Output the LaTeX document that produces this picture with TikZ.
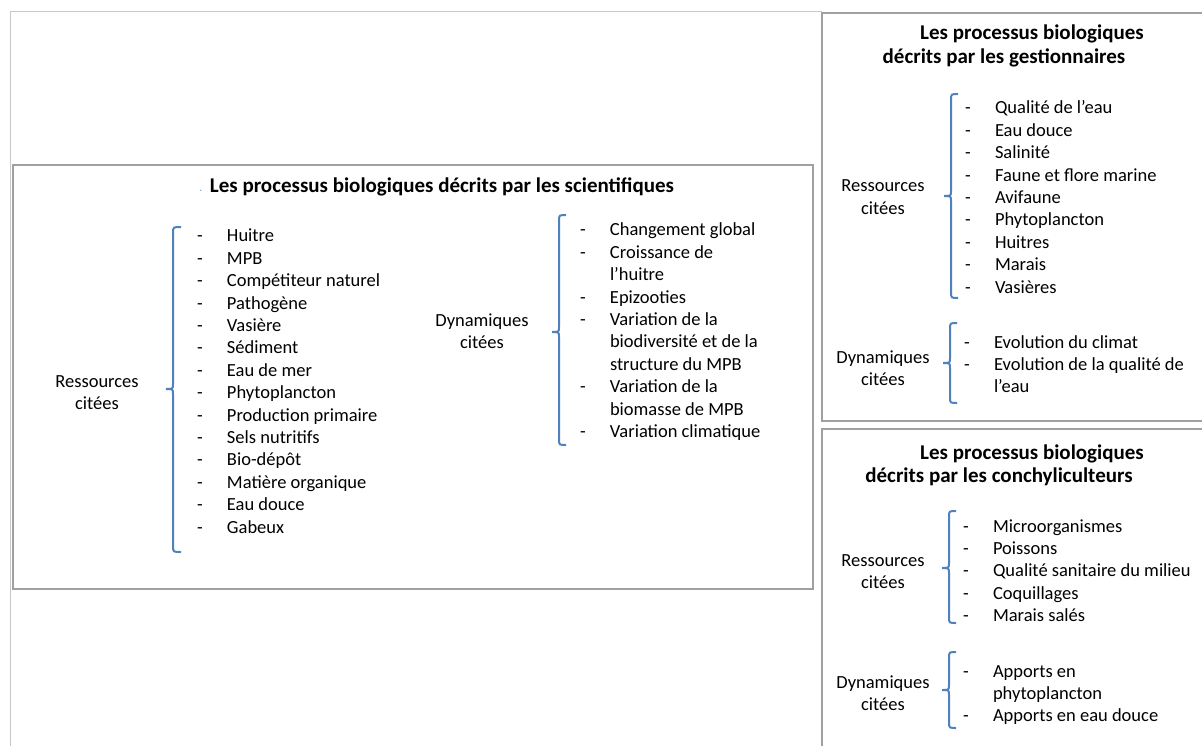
\documentclass[tikz,border=0pt]{standalone}
\usepackage{fontspec}
\setmainfont{Carlito}
\definecolor{frame}{RGB}{160,160,160}
\definecolor{outer}{RGB}{200,200,200}
\definecolor{brace}{RGB}{79,129,189}
\definecolor{dotblue}{RGB}{120,170,220}
\newcommand{\dsh}{\makebox[30pt][l]{-}}
\newcommand{\ind}{\hspace*{30pt}}
\tikzset{
  boxline/.style={draw=frame, line width=1.7pt},
  bracepath/.style={draw=brace, line width=2pt},
  txt/.style={inner sep=0pt, outer sep=0pt, font=\fontsize{18.5pt}{22.4pt}\selectfont},
  ttl/.style={inner sep=0pt, outer sep=0pt, font=\fontsize{21pt}{24pt}\selectfont\bfseries},
}
\newcommand{\mybrace}[6]{% x, top, mid, bot, xl, xr
  \draw[bracepath] (#6,#2) .. controls (#1,#2) .. (#1,#2+6) -- (#1,#3-5)
    .. controls (#1,#3) .. (#5,#3) .. controls (#1,#3) .. (#1,#3+5)
    -- (#1,#4-6) .. controls (#1,#4) .. (#6,#4);}
\begin{document}
\begin{tikzpicture}[x=1pt,y=-1pt]
\useasboundingbox (0,0) rectangle (1202,746);
\clip (0,0) rectangle (1202,746);
% outer frame
\draw[draw=outer, line width=1.4pt] (10.5,746) -- (10.5,11.5) -- (822,11.5);
% boxes
\draw[boxline] (13,165) rectangle (813,589);
\draw[boxline] (822,13) rectangle (1215,421);
\draw[boxline] (822,429) rectangle (1215,760);

% ---------- left box: scientifiques ----------
\node[inner sep=0pt, text=dotblue, font=\fontsize{12pt}{14pt}\selectfont, anchor=base] (dot) at (201,192) {.};
\node[ttl, anchor=base] (t1) at (442,193) {Les processus biologiques décrits par les scientifiques};
\node[txt, anchor=base] (r1) at (97,387) {\begin{tabular}[t]{@{}c@{}}Ressources\\citées\end{tabular}};
\mybrace{173}{227}{389}{552}{166}{181}
\node[txt, anchor=base west] (l1) at (197,242) {\begin{tabular}[t]{@{}l@{}}
\dsh Huitre\\ \dsh MPB\\ \dsh Compétiteur naturel\\ \dsh Pathogène\\ \dsh Vasière\\
\dsh Sédiment\\ \dsh Eau de mer\\ \dsh Phytoplancton\\ \dsh Production primaire\\
\dsh Sels nutritifs\\ \dsh Bio-dépôt\\ \dsh Matière organique\\ \dsh Eau douce\\ \dsh Gabeux
\end{tabular}};
\node[txt, anchor=base] (d1) at (482,326) {\begin{tabular}[t]{@{}c@{}}Dynamiques\\citées\end{tabular}};
\mybrace{559}{215}{332}{445}{552}{566}
\node[txt, anchor=base west] (l2) at (580,236) {\begin{tabular}[t]{@{}l@{}}
\dsh Changement global\\ \dsh Croissance de\\ \ind l’huitre\\ \dsh Epizooties\\
\dsh Variation de la\\ \ind biodiversité et de la\\ \ind structure du MPB\\
\dsh Variation de la\\ \ind biomasse de MPB\\ \dsh Variation climatique
\end{tabular}};

% ---------- top right: gestionnaires ----------
\node[ttl, anchor=base] (t2a) at (1032,40) {Les processus biologiques};
\node[ttl, anchor=base] (t2b) at (1004,64) {décrits par les gestionnaires};
\node[txt, anchor=base] (r2) at (883,192) {\begin{tabular}[t]{@{}c@{}}Ressources\\citées\end{tabular}};
\mybrace{951}{94}{196}{298}{944}{958}
\node[txt, anchor=base west] (l3) at (965,114) {\begin{tabular}[t]{@{}l@{}}
\dsh Qualité de l’eau\\ \dsh Eau douce\\ \dsh Salinité\\ \dsh Faune et flore marine\\
\dsh Avifaune\\ \dsh Phytoplancton\\ \dsh Huitres\\ \dsh Marais\\ \dsh Vasières
\end{tabular}};
\node[txt, anchor=base] (d2) at (883,363) {\begin{tabular}[t]{@{}c@{}}Dynamiques\\citées\end{tabular}};
\mybrace{950}{323}{363}{403}{943}{957}
\node[txt, anchor=base west] (l4) at (964,348) {\begin{tabular}[t]{@{}l@{}}
\dsh Evolution du climat\\ \dsh Evolution de la qualité de\\ \ind l’eau
\end{tabular}};

% ---------- bottom right: conchyliculteurs ----------
\node[ttl, anchor=base] (t3a) at (1032,459) {Les processus biologiques};
\node[ttl, anchor=base] (t3b) at (999,482) {décrits par les conchyliculteurs};
\node[txt, anchor=base] (r3) at (883,566) {\begin{tabular}[t]{@{}c@{}}Ressources\\citées\end{tabular}};
\mybrace{949}{511}{568}{623}{942}{956}
\node[txt, anchor=base west] (l5) at (963,532) {\begin{tabular}[t]{@{}l@{}}
\dsh Microorganismes\\ \dsh Poissons\\ \dsh Qualité sanitaire du milieu\\
\dsh Coquillages\\ \dsh Marais salés
\end{tabular}};
\node[txt, anchor=base] (d3) at (883,688) {\begin{tabular}[t]{@{}c@{}}Dynamiques\\citées\end{tabular}};
\mybrace{949}{652}{690}{728}{942}{956}
\node[txt, anchor=base west] (l6) at (963,677) {\begin{tabular}[t]{@{}l@{}}
\dsh Apports en\\ \ind phytoplancton\\ \dsh Apports en eau douce
\end{tabular}};
\end{tikzpicture}
\end{document}
